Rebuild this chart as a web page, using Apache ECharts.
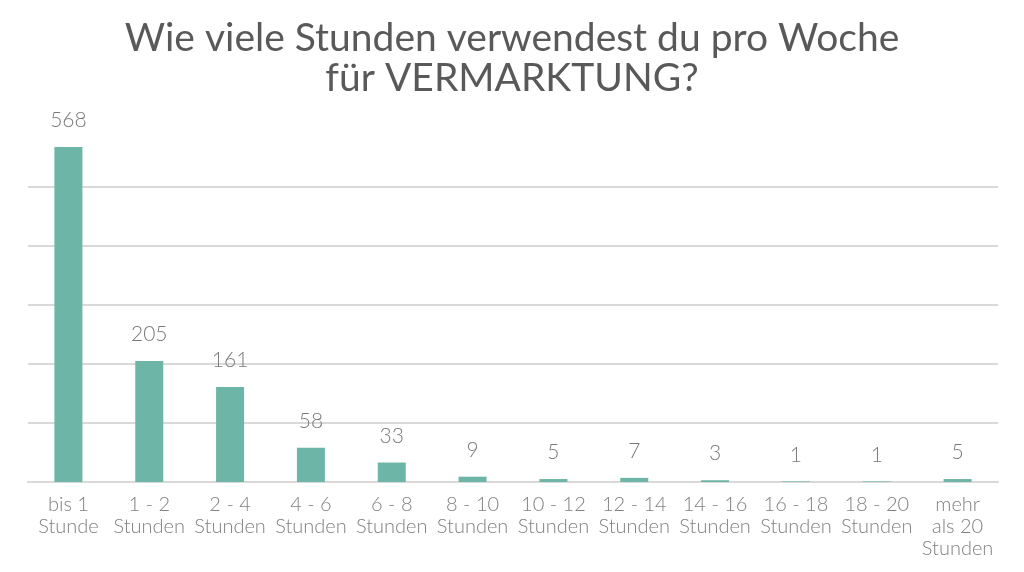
<!DOCTYPE html>
<html>
<head>
<meta charset="utf-8">
<script src="https://cdn.jsdelivr.net/npm/echarts@6/dist/echarts.min.js"></script>
<style>html,body{margin:0;padding:0;background:#fff}#c{width:1024px;height:572px}</style>
</head>
<body>
<div id="c"></div>
<script>
const titleLines = ["Wie viele Stunden verwendest du pro Woche", "für VERMARKTUNG?"];
const categories = ["bis 1\nStunde", "1 - 2\nStunden", "2 - 4\nStunden", "4 - 6\nStunden", "6 - 8\nStunden", "8 - 10\nStunden", "10 - 12\nStunden", "12 - 14\nStunden", "14 - 16\nStunden", "16 - 18\nStunden", "18 - 20\nStunden", "mehr\nals 20\nStunden"];
const values = [568, 205, 161, 58, 33, 9, 5, 7, 3, 1, 1, 5];
const yMax = 600;
const yInterval = 100;

const chart = echarts.init(document.getElementById('c'));
chart.setOption({
  animation: false,
  title: {
    text: titleLines.join('\n'),
    left: 'center',
    top: 13,
    textStyle: {
      fontFamily: 'Lato, "Open Sans", sans-serif',
      fontSize: 39,
      fontWeight: 'normal',
      color: '#595959',
      lineHeight: 40
    }
  },
  grid: { left: 28, right: 26, top: 128, bottom: 90, containLabel: false },
  xAxis: {
    type: 'category',
    data: categories,
    axisLine: { show: true, lineStyle: { color: '#d9d9d9', width: 2 } },
    axisTick: { show: false },
    axisLabel: {
      interval: 0,
      margin: 12,
      fontFamily: 'Lato, "Open Sans", sans-serif',
      fontWeight: 300,
      fontSize: 20,
      lineHeight: 22,
      color: '#808080'
    }
  },
  yAxis: {
    type: 'value',
    min: 0,
    max: yMax,
    interval: yInterval,
    axisLine: { show: false },
    axisTick: { show: false },
    axisLabel: { show: false },
    splitLine: { show: true, showMaxLine: false, lineStyle: { color: '#d9d9d9', width: 2 } }
  },
  series: [{
    type: 'bar',
    data: values,
    barWidth: 28,
    itemStyle: { color: '#6db5a6' },
    label: {
      show: true,
      position: 'top',
      distance: 16,
      fontFamily: 'Lato, "Open Sans", sans-serif',
      fontWeight: 300,
      fontSize: 21,
      color: '#7a7a7a'
    }
  }]
});
</script>
</body>
</html>
